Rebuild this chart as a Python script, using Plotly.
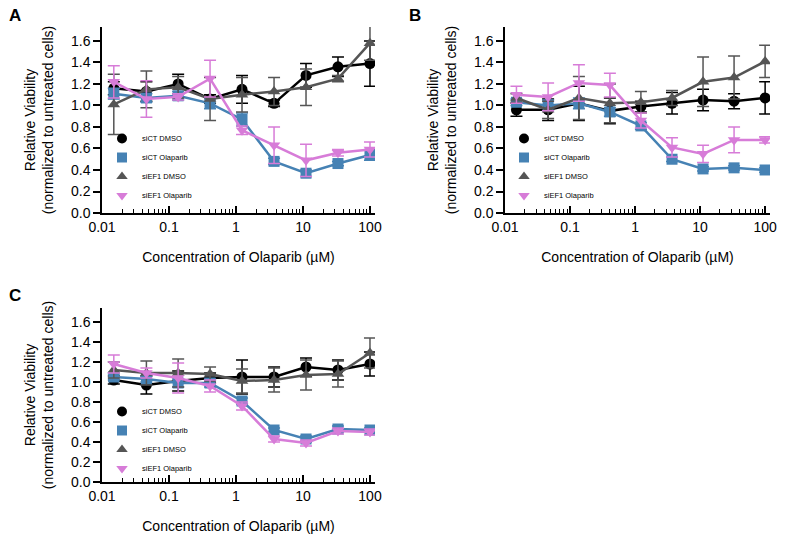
import plotly.graph_objects as go

conc = [0.015, 0.046, 0.137, 0.41, 1.23, 3.7, 11.1, 33.3, 100]

series_names = ["siCT DMSO", "siCT Olaparib", "siEF1 DMSO", "siEF1 Olaparib"]
colors = ["#000000", "#4682b4", "#555555", "#d77cd8"]
symbols = ["circle", "square", "triangle-up", "triangle-down"]

# Panel A
A_ctd = [1.16, 1.13, 1.20, 1.06, 1.15, 1.02, 1.28, 1.36, 1.39]
A_ctd_sd = [0.06, 0.09, 0.09, 0.04, 0.13, 0.03, 0.11, 0.09, 0.21]
A_cto = [1.11, 1.07, 1.09, 1.02, 0.87, 0.48, 0.37, 0.46, 0.54]
A_cto_sd = [0.05, 0.04, 0.04, 0.05, 0.06, 0.03, 0.03, 0.02, 0.05]
A_efd = [1.01, 1.15, 1.17, 1.06, 1.10, 1.13, 1.17, 1.25, 1.58]
A_efd_sd = [0.28, 0.17, 0.10, 0.20, 0.16, 0.13, 0.17, 0.03, 0.16]
A_efo = [1.22, 1.06, 1.08, 1.25, 0.77, 0.63, 0.49, 0.56, 0.59]
A_efo_sd = [0.15, 0.17, 0.03, 0.17, 0.04, 0.17, 0.15, 0.03, 0.07]

# Panel B
B_ctd = [0.96, 0.96, 1.02, 0.95, 0.99, 1.02, 1.05, 1.04, 1.07]
B_ctd_sd = [0.06, 0.10, 0.16, 0.12, 0.05, 0.10, 0.10, 0.07, 0.15]
B_cto = [1.03, 1.00, 1.02, 0.94, 0.81, 0.50, 0.41, 0.42, 0.40]
B_cto_sd = [0.03, 0.05, 0.05, 0.04, 0.03, 0.02, 0.02, 0.02, 0.02]
B_efd = [1.07, 0.96, 1.07, 1.02, 1.03, 1.07, 1.22, 1.26, 1.41]
B_efd_sd = [0.04, 0.08, 0.20, 0.18, 0.10, 0.07, 0.23, 0.20, 0.15]
B_efo = [1.10, 1.08, 1.21, 1.19, 0.86, 0.61, 0.55, 0.68, 0.68]
B_efo_sd = [0.08, 0.13, 0.17, 0.11, 0.07, 0.09, 0.08, 0.12, 0.03]

# Panel C
C_ctd = [1.02, 0.97, 1.01, 1.04, 1.05, 1.05, 1.15, 1.12, 1.18]
C_ctd_sd = [0.04, 0.09, 0.10, 0.05, 0.17, 0.10, 0.09, 0.10, 0.12]
C_cto = [1.05, 1.03, 0.99, 0.99, 0.81, 0.52, 0.43, 0.53, 0.52]
C_cto_sd = [0.03, 0.03, 0.04, 0.04, 0.03, 0.02, 0.03, 0.03, 0.02]
C_efd = [1.12, 1.09, 1.09, 1.08, 1.01, 1.02, 1.07, 1.08, 1.29]
C_efd_sd = [0.08, 0.12, 0.14, 0.07, 0.12, 0.12, 0.15, 0.13, 0.15]
C_efo = [1.18, 1.09, 1.04, 0.96, 0.76, 0.43, 0.39, 0.51, 0.50]
C_efo_sd = [0.09, 0.05, 0.15, 0.06, 0.04, 0.03, 0.03, 0.03, 0.03]

panels = [
    ("A", [A_ctd, A_cto, A_efd, A_efo], [A_ctd_sd, A_cto_sd, A_efd_sd, A_efo_sd]),
    ("B", [B_ctd, B_cto, B_efd, B_efo], [B_ctd_sd, B_cto_sd, B_efd_sd, B_efo_sd]),
    ("C", [C_ctd, C_cto, C_efd, C_efo], [C_ctd_sd, C_cto_sd, C_efd_sd, C_efo_sd]),
]

W, H = 796, 540
FONT = "Arial, Liberation Sans, sans-serif"

# pixel layout of each panel: (x0, x1, ytop, ybottom, ymax)
geom = {
    "A": (102, 375, 27, 213, 1.73),
    "B": (505, 770, 27, 213, 1.73),
    "C": (102, 375, 308, 482, 1.74),
}
legend_pos = {"A": (102, 124), "B": (504, 124), "C": (102, 397)}
label_pos = {"A": (7, 15), "B": (407, 15), "C": (7, 295)}

fig = go.Figure()
layout = dict(
    width=W, height=H,
    margin=dict(l=0, r=0, t=0, b=0, autoexpand=False),
    paper_bgcolor="white", plot_bgcolor="white",
    font=dict(family=FONT, color="#000000", size=14),
    annotations=[],
)

for i, (lab, vals, sds) in enumerate(panels):
    n = "" if i == 0 else str(i + 1)
    xa, ya = "x" + n, "y" + n
    leg = "legend" + n
    for k in range(4):
        fig.add_trace(go.Scatter(
            x=conc, y=vals[k], mode="lines+markers",
            line=dict(color=colors[k], width=2.5),
            marker=dict(symbol=symbols[k], color=colors[k], size=11),
            error_y=dict(type="data", array=sds[k], color=colors[k],
                         thickness=1.5, width=6),
            xaxis=xa, yaxis=ya, showlegend=False, name=series_names[k],
        ))
    for k in range(4):
        fig.add_trace(go.Scatter(
            x=[None], y=[None], mode="markers",
            marker=dict(symbol=symbols[k], color=colors[k], size=10),
            xaxis=xa, yaxis=ya, name=series_names[k], legend=leg,
            showlegend=True,
        ))
    x0, x1, yt, yb, ymax = geom[lab]
    layout["xaxis" + n] = dict(
        type="log", range=[-2, 2.075], automargin=False,
        domain=[x0 / W, x1 / W], anchor=ya,
        tickvals=[0.01, 0.1, 1, 10, 100], ticktext=["0.01", "0.1", "1", "10", "100"],
        ticks="inside", ticklen=7, tickwidth=1.5, tickcolor="#000",
        minor=dict(ticks="inside", ticklen=4, tickwidth=1, tickcolor="#000",
                   tickvals=[m * 10 ** e for e in range(-2, 2) for m in range(2, 10)]),
        showline=True, linecolor="#000", linewidth=1.5,
        showgrid=False, zeroline=False,
        tickfont=dict(size=14, family=FONT, color="#000"),
        title=dict(text="Concentration of Olaparib (\u00b5M)",
                   font=dict(size=14, family=FONT, color="#000"), standoff=19),
    )
    layout["yaxis" + n] = dict(
        range=[0, ymax], automargin=False,
        domain=[1 - yb / H, 1 - yt / H], anchor=xa,
        tickvals=[0, 0.2, 0.4, 0.6, 0.8, 1.0, 1.2, 1.4, 1.6],
        tickformat=".1f",
        ticks="outside", ticklen=7, tickwidth=1.5, tickcolor="#000",
        showline=True, linecolor="#000", linewidth=1.5,
        showgrid=False, zeroline=False,
        tickfont=dict(size=14, family=FONT, color="#000"),
        title=dict(text="Relative Viability<br>(normalized to untreated cells)",
                   font=dict(size=14, family=FONT, color="#000"), standoff=14),
    )
    lx, ly = legend_pos[lab]
    layout[leg] = dict(
        x=lx / W, y=1 - ly / H, xanchor="left", yanchor="top",
        xref="paper", yref="paper",
        font=dict(size=7.5, family=FONT, color="#000000"),
        bgcolor="rgba(0,0,0,0)", borderwidth=0,
        tracegroupgap=0, itemwidth=30,
    )
    px, py = label_pos[lab]
    layout["annotations"].append(dict(
        text="<b>%s</b>" % lab, x=px / W, y=1 - py / H, xref="paper", yref="paper",
        xanchor="left", yanchor="middle", showarrow=False,
        font=dict(size=17, family=FONT, color="#000"),
    ))

fig.update_layout(**layout)
fig.write_html("out.html", config={"displayModeBar": False},
               post_script="document.body.style.margin='0px';")
